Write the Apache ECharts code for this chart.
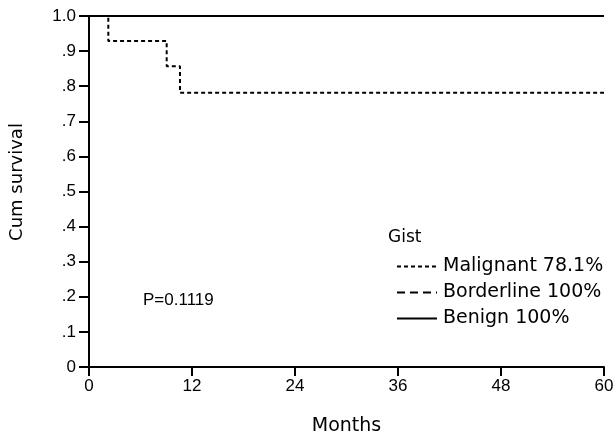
<!DOCTYPE html>
<html>
<head>
<meta charset="utf-8">
<script src="https://cdn.jsdelivr.net/npm/echarts@6/dist/echarts.min.js"></script>
<style>
html,body{margin:0;padding:0;background:#fff;}
#chart{width:616px;height:438px;}
</style>
</head>
<body>
<div id="chart"></div>
<script>
// Data
const seriesNames = ['Malignant 78.1%', 'Borderline 100%', 'Benign 100%'];
const malignantMonths = [0, 2.25, 9.05, 10.6, 60];
const malignantSurv = [1.0, 0.929, 0.857, 0.781, 0.781];
const borderlineMonths = [0, 60];
const borderlineSurv = [1.0, 1.0];
const benignMonths = [0, 60];
const benignSurv = [1.0, 1.0];
const xTicks = [0, 12, 24, 36, 48, 60];
const yTickLabels = ['0', '.1', '.2', '.3', '.4', '.5', '.6', '.7', '.8', '.9', '1.0'];
const xTitle = 'Months';
const yTitle = 'Cum survival';
const legendTitle = 'Gist';
const pText = 'P=0.1119';

function pairs(xs, ys) { return xs.map((x, i) => [x, ys[i]]); }

const FONT = 'DejaVu Sans';
const TICKFONT = 'Liberation Sans';
const chart = echarts.init(document.getElementById('chart'), null, {renderer: 'canvas'});
const lineBase = {type: 'line', step: 'end', symbol: 'none', silent: true, animation: false,
  itemStyle: {color: '#000'}};

chart.setOption({
  backgroundColor: '#fff',
  animation: false,
  grid: {left: 89, right: 12, top: 16, bottom: 71, outerBoundsMode: 'none'},
  xAxis: {
    type: 'value', min: 0, max: 60, interval: 12,
    name: xTitle, nameLocation: 'middle', nameGap: 50,
    nameTextStyle: {fontFamily: FONT, fontSize: 19, color: '#000'},
    axisLine: {show: true, onZero: false, lineStyle: {color: '#000', width: 2}},
    axisTick: {show: true, length: 9, lineStyle: {color: '#000', width: 2}},
    axisLabel: {fontFamily: TICKFONT, fontSize: 17, color: '#000', margin: 11,
      formatter: v => String(xTicks[xTicks.indexOf(v)])},
    splitLine: {show: false}
  },
  yAxis: {
    type: 'value', min: 0, max: 1, interval: 0.1,
    axisLine: {show: true, lineStyle: {color: '#000', width: 2}},
    axisTick: {show: true, length: 10, lineStyle: {color: '#000', width: 2}},
    axisLabel: {fontFamily: TICKFONT, fontSize: 17, color: '#000', margin: 13,
      formatter: v => yTickLabels[Math.round(v * 10)]},
    splitLine: {show: false}
  },
  legend: {
    orient: 'vertical', left: 391, top: 252,
    itemWidth: 40, itemHeight: 16, itemGap: 7,
    itemStyle: {opacity: 0},
    textStyle: {fontFamily: FONT, fontSize: 19, color: '#000', padding: [0, 0, 0, 1]},
    data: seriesNames,
    selectedMode: false
  },
  graphic: [
    {type: 'text', x: 17, y: 182, rotation: Math.PI / 2,
      style: {text: yTitle, font: '18px "DejaVu Sans"', fill: '#000', align: 'center', verticalAlign: 'middle'}},
    {type: 'text', left: 388, top: 229, style: {text: legendTitle, font: '17px "DejaVu Sans"', fill: '#000'}},
    {type: 'text', left: 143, top: 292, style: {text: pText, font: '17px "Liberation Sans"', fill: '#000'}}
  ],
  series: [
    Object.assign({}, lineBase, {name: seriesNames[0], data: pairs(malignantMonths, malignantSurv),
      lineStyle: {color: '#000', width: 2, type: [4, 3]}, z: 2}),
    Object.assign({}, lineBase, {name: seriesNames[1], data: pairs(borderlineMonths, borderlineSurv),
      lineStyle: {color: '#000', width: 2, type: [8, 5]}, z: 3}),
    Object.assign({}, lineBase, {name: seriesNames[2], data: pairs(benignMonths, benignSurv),
      lineStyle: {color: '#000', width: 2, type: 'solid'}, z: 4})
  ]
});
</script>
</body>
</html>
